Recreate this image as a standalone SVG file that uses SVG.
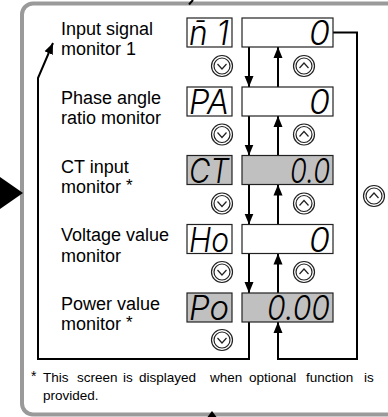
<svg xmlns="http://www.w3.org/2000/svg" width="388" height="417" viewBox="0 0 388 417">
<style>
.lbl{font-family:"Liberation Sans",Arial,sans-serif;font-size:18px;fill:#000}
.note{font-family:"Liberation Sans",Arial,sans-serif;font-size:13.5px;fill:#000}
.seg{font-family:Inter,Roboto,Lato,"DejaVu Sans",sans-serif;font-size:34px;font-weight:300;font-style:italic;fill:#000}
.box{fill:#fff;stroke:#222;stroke-width:1.2}
.box.on{fill:#c0c0c0}
.ln{fill:none;stroke:#000;stroke-width:2}
.btn{fill:#fff;stroke:#222;stroke-width:1.2}
.chev{fill:none;stroke:#222;stroke-width:1.2}
</style>
<defs>
<marker id="ah" markerUnits="userSpaceOnUse" markerWidth="12" markerHeight="10" refX="11" refY="5" orient="auto">
<path d="M0,0.5 L11,5 L0,9.5 Z" fill="#000"/>
</marker>
<g id="bdown"><circle r="10.5" class="btn"/><circle r="8" class="btn"/><path d="M-4.5,-2 L0,3 L4.5,-2" class="chev"/></g>
<g id="bup"><circle r="10.5" class="btn"/><circle r="8" class="btn"/><path d="M-4.5,2 L0,-3 L4.5,2" class="chev"/></g>
</defs>
<rect x="22" y="3.5" width="430" height="411" rx="11" fill="none" stroke="#9a9a9a" stroke-width="4"/>
<path d="M0,177 L23,193 L0,209 Z" fill="#000"/>
<path d="M189,4.5 L193,0" stroke="#000" stroke-width="2"/>
<path d="M212,411 L216.5,417 L207.5,417 Z" fill="#000"/>

<g id="connectors">
<path class="ln" marker-end="url(#ah)" d="M249,47 V87"/>
<path class="ln" marker-end="url(#ah)" d="M249,116 V155.5"/>
<path class="ln" marker-end="url(#ah)" d="M249,184.5 V224.5"/>
<path class="ln" marker-end="url(#ah)" d="M249,253.5 V293"/>
<path class="ln" marker-end="url(#ah)" d="M278,87 V47"/>
<path class="ln" marker-end="url(#ah)" d="M278,155.5 V116"/>
<path class="ln" marker-end="url(#ah)" d="M278,224.5 V184.5"/>
<path class="ln" marker-end="url(#ah)" d="M278,293 V253.5"/>
<path class="ln" marker-end="url(#ah)" d="M249,322 V359 H38 V78 L53,43"/>
<path class="ln" marker-end="url(#ah)" d="M333,32.5 H357 V359 H278 V322"/>
</g>

<g id="row1">
<text class="lbl" x="61" y="35">Input signal</text>
<text class="lbl" x="61" y="55">monitor 1</text>
<rect class="box" x="187" y="18" width="45" height="29"/>
<text class="seg" x="189" y="45" textLength="40" lengthAdjust="spacingAndGlyphs">n̄ 1</text>
<rect class="box" x="242" y="18" width="91" height="29"/>
<text class="seg" x="330" y="45" text-anchor="end">0</text>
</g>
<g id="row2">
<text class="lbl" x="61" y="104">Phase angle</text>
<text class="lbl" x="61" y="124">ratio monitor</text>
<rect class="box" x="187" y="87" width="45" height="29"/>
<text class="seg" x="189" y="114" textLength="40" lengthAdjust="spacingAndGlyphs">PA</text>
<rect class="box" x="242" y="87" width="91" height="29"/>
<text class="seg" x="330" y="114" text-anchor="end">0</text>
</g>
<g id="row3">
<text class="lbl" x="61" y="172.5">CT input</text>
<text class="lbl" x="61" y="193">monitor <tspan font-size="17" dy="-2">*</tspan></text>
<rect class="box on" x="187" y="155.5" width="45" height="29"/>
<text class="seg" x="189" y="182.5" textLength="40" lengthAdjust="spacingAndGlyphs">CT</text>
<rect class="box on" x="242" y="155.5" width="91" height="29"/>
<text class="seg" x="290" y="182.5" textLength="40" lengthAdjust="spacingAndGlyphs">0.0</text>
</g>
<g id="row4">
<text class="lbl" x="61" y="241">Voltage value</text>
<text class="lbl" x="61" y="261.5">monitor</text>
<rect class="box" x="187" y="224.5" width="45" height="29"/>
<text class="seg" x="189" y="251.5" textLength="40" lengthAdjust="spacingAndGlyphs">Ho</text>
<rect class="box" x="242" y="224.5" width="91" height="29"/>
<text class="seg" x="330" y="251.5" text-anchor="end">0</text>
</g>
<g id="row5">
<text class="lbl" x="61" y="309.5">Power value</text>
<text class="lbl" x="61" y="330">monitor <tspan font-size="17" dy="-2">*</tspan></text>
<rect class="box on" x="187" y="293" width="45" height="29"/>
<text class="seg" x="189" y="320" textLength="40" lengthAdjust="spacingAndGlyphs">Po</text>
<rect class="box on" x="242" y="293" width="91" height="29"/>
<text class="seg" x="267" y="320" textLength="63" lengthAdjust="spacingAndGlyphs">0.00</text>
</g>

<g id="buttons">
<use href="#bdown" x="222" y="66"/>
<use href="#bup" x="304" y="66"/>
<use href="#bdown" x="222" y="134.5"/>
<use href="#bup" x="304" y="134.5"/>
<use href="#bdown" x="222" y="203.5"/>
<use href="#bup" x="304" y="203.5"/>
<use href="#bdown" x="222" y="272"/>
<use href="#bup" x="304" y="272"/>
<use href="#bdown" x="222" y="340"/>
<use href="#bup" x="374" y="196"/>
</g>

<g id="footnote">
<text class="note" y="382"><tspan x="31" dy="-1" font-size="14">*</tspan><tspan x="43" dy="1">This</tspan><tspan x="77">screen</tspan><tspan x="123">is</tspan><tspan x="139">displayed</tspan><tspan x="210">when</tspan><tspan x="249">optional</tspan><tspan x="306">function</tspan><tspan x="364">is</tspan></text>
<text class="note" x="43" y="400">provided.</text>
</g>
</svg>
